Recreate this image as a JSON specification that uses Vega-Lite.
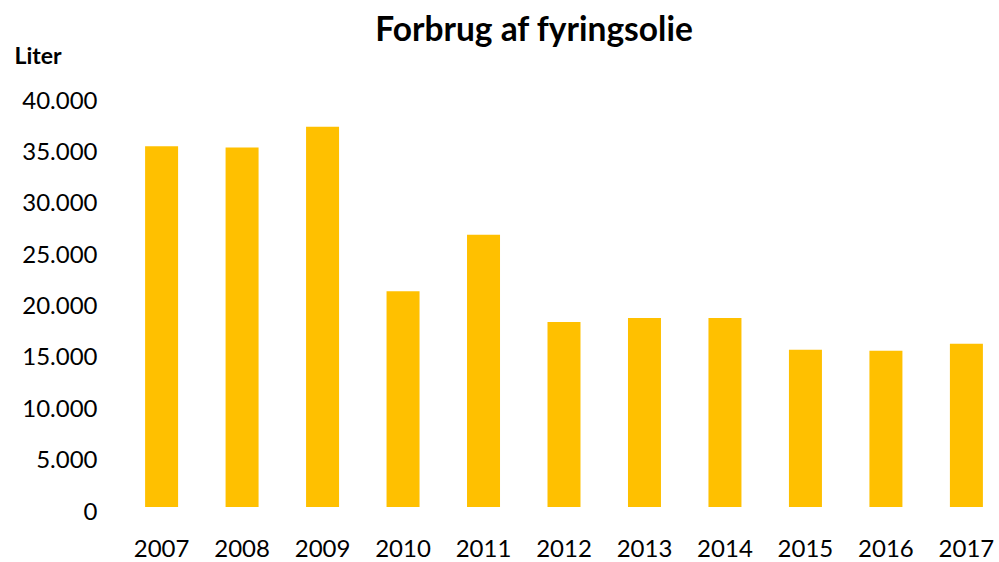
{
  "$schema": "https://vega.github.io/schema/vega-lite/v6.json",
  "autosize": "none",
  "width": 870,
  "height": 411,
  "padding": {"left": 129, "top": 96, "right": 0, "bottom": 55},
  "background": "white",
  "config": {"view": {"stroke": null}, "font": "Lato"},
  "title": {"text": "Forbrug af fyringsolie", "font": "Lato", "fontSize": 33.5, "fontWeight": "bold", "color": "#000000", "anchor": "middle", "dx": -30, "dy": 23, "offset": 20},
  "data": {"values": [
    {"year": "2007", "liter": 35100},
    {"year": "2008", "liter": 35000},
    {"year": "2009", "liter": 37000},
    {"year": "2010", "liter": 21000},
    {"year": "2011", "liter": 26500},
    {"year": "2012", "liter": 18000},
    {"year": "2013", "liter": 18400},
    {"year": "2014", "liter": 18400},
    {"year": "2015", "liter": 15300},
    {"year": "2016", "liter": 15200},
    {"year": "2017", "liter": 15900}
  ]},
  "mark": {"type": "bar", "color": "#FFC000"},
  "encoding": {
    "x": {"field": "year", "type": "ordinal", "scale": {"paddingInner": 0.59, "paddingOuter": 0.2},
      "axis": {"title": null, "labelAngle": 0, "domain": false, "ticks": false, "labelFont": "Lato", "labelFontSize": 24, "labelColor": "#000000", "labelPadding": 30}},
    "y": {"field": "liter", "type": "quantitative", "scale": {"domain": [0, 40000], "nice": false},
      "axis": {"title": "Liter", "titleAngle": 0, "titleAlign": "left", "titleBaseline": "alphabetic", "titleX": -115, "titleY": -33, "titleFont": "Lato", "titleFontSize": 23, "titleFontWeight": "bold", "titleColor": "#000000",
        "values": [0, 5000, 10000, 15000, 20000, 25000, 30000, 35000, 40000],
        "labelExpr": "replace(format(datum.value, ','), ',', '.')",
        "domain": false, "ticks": false, "grid": false, "labelFont": "Lato", "labelFontSize": 24, "labelColor": "#000000", "labelPadding": 32, "labelOffset": 5}}
  }
}
